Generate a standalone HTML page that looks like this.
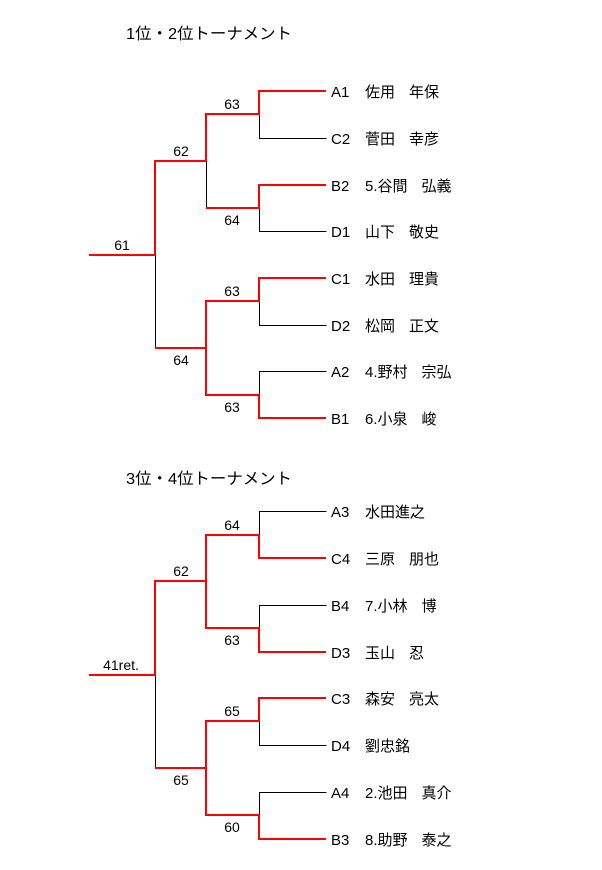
<!DOCTYPE html>
<html><head><meta charset="utf-8"><style>
html,body{margin:0;padding:0;background:#fff}
svg{display:block}
text{font-family:"Liberation Sans","Noto Sans CJK JP",sans-serif;fill:#000}
</style></head><body>
<svg width="602" height="870" xmlns="http://www.w3.org/2000/svg">
<g fill="none" stroke-width="1" transform="translate(0.5 0.5)">
<g stroke="#000">
<path d="M259 114V138H326"/>
<path d="M206 161V208"/>
<path d="M259 208V231H326"/>
<path d="M155 255V348"/>
<path d="M259 301V325H326"/>
<path d="M206 348V395"/>
<path d="M259 395V371H326"/>
<path d="M259 535V511H326"/>
<path d="M259 628V605H326"/>
<path d="M155 675V768"/>
<path d="M206 768V721"/>
<path d="M259 721V745H326"/>
<path d="M259 815V792H326"/>
</g>
</g>
<g fill="none" stroke="#f00" stroke-width="2">
<path d="M89 255H155V161H206V114H259V91H326"/>
<path d="M206 208H259V185H326"/>
<path d="M155 348H206V301H259V278H326"/>
<path d="M206 348V395H259V418H326"/>
<path d="M89 675H155V581H206V535H259V558H326"/>
<path d="M206 581V628H259V652H326"/>
<path d="M155 768H206V721H259V698H326"/>
<path d="M206 768V815H259V839H326"/>
</g>
<text x="126" y="39" font-size="16" textLength="166" lengthAdjust="spacingAndGlyphs">1位・2位トーナメント</text>
<text x="126" y="484" font-size="16" textLength="166" lengthAdjust="spacingAndGlyphs">3位・4位トーナメント</text>
<g font-size="14" text-anchor="middle">
<text x="122" y="250">61</text>
<text x="181" y="156">62</text>
<text x="181" y="365">64</text>
<text x="232" y="109">63</text>
<text x="232" y="225">64</text>
<text x="232" y="296">63</text>
<text x="232" y="412">63</text>
<text x="121" y="670">41ret.</text>
<text x="181" y="576">62</text>
<text x="181" y="785">65</text>
<text x="232" y="530">64</text>
<text x="232" y="645">63</text>
<text x="232" y="716">65</text>
<text x="232" y="832">60</text>
</g>
<g font-size="15">
<text x="331" y="97">A1</text><text x="365" y="97">佐用<tspan dx="14">年保</tspan></text>
<text x="331" y="144">C2</text><text x="365" y="144">菅田<tspan dx="14">幸彦</tspan></text>
<text x="331" y="191">B2</text><text x="365" y="191">5.谷間<tspan dx="14">弘義</tspan></text>
<text x="331" y="237">D1</text><text x="365" y="237">山下<tspan dx="14">敬史</tspan></text>
<text x="331" y="284">C1</text><text x="365" y="284">水田<tspan dx="14">理貴</tspan></text>
<text x="331" y="331">D2</text><text x="365" y="331">松岡<tspan dx="14">正文</tspan></text>
<text x="331" y="377">A2</text><text x="365" y="377">4.野村<tspan dx="14">宗弘</tspan></text>
<text x="331" y="424">B1</text><text x="365" y="424">6.小泉<tspan dx="14">峻</tspan></text>
<text x="331" y="517">A3</text><text x="365" y="517">水田進之</text>
<text x="331" y="564">C4</text><text x="365" y="564">三原<tspan dx="14">朋也</tspan></text>
<text x="331" y="611">B4</text><text x="365" y="611">7.小林<tspan dx="14">博</tspan></text>
<text x="331" y="658">D3</text><text x="365" y="658">玉山<tspan dx="14">忍</tspan></text>
<text x="331" y="704">C3</text><text x="365" y="704">森安<tspan dx="14">亮太</tspan></text>
<text x="331" y="751">D4</text><text x="365" y="751">劉忠銘</text>
<text x="331" y="798">A4</text><text x="365" y="798">2.池田<tspan dx="14">真介</tspan></text>
<text x="331" y="845">B3</text><text x="365" y="845">8.助野<tspan dx="14">泰之</tspan></text>
</g>
</svg>
</body></html>
